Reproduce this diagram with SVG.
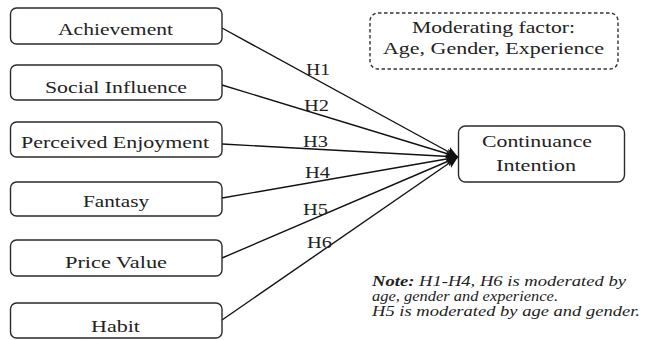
<svg xmlns="http://www.w3.org/2000/svg" width="645" height="340" viewBox="0 0 645 340">
<style>
.box{fill:#fff;stroke:#2a2a2a;stroke-width:1.4}
.dash{fill:#fff;stroke:#333;stroke-width:1.4;stroke-dasharray:3.5 2.5}
.t{font-size:17px}
.h{font-size:16px}
.n{font-size:14px;font-style:italic}
.c{stroke:#111;stroke-width:1.4;fill:none;marker-end:url(#ah)}
</style>
<defs>
<marker id="ah" viewBox="0 0 12 10" refX="12" refY="5" markerWidth="12" markerHeight="10" markerUnits="userSpaceOnUse" orient="auto">
<path d="M0,0 L12,5 L0,10 L3,5 Z" fill="#111"/>
</marker>
</defs>
<rect width="645" height="340" fill="#fff"/>
<g font-family="'Liberation Serif', 'Times New Roman', Times, serif" fill="#222">
<g id="connectors">
<line class="c" x1="222" y1="28" x2="458" y2="157"/>
<line class="c" x1="222" y1="85" x2="458" y2="157"/>
<line class="c" x1="222" y1="144" x2="458" y2="157"/>
<line class="c" x1="222" y1="198" x2="458" y2="157"/>
<line class="c" x1="222" y1="258" x2="458" y2="157"/>
<line class="c" x1="222" y1="320" x2="458" y2="157"/>
<text class="h" x="306" y="75" textLength="24" lengthAdjust="spacingAndGlyphs">H1</text>
<text class="h" x="304" y="111" textLength="25" lengthAdjust="spacingAndGlyphs">H2</text>
<text class="h" x="303" y="147" textLength="25" lengthAdjust="spacingAndGlyphs">H3</text>
<text class="h" x="305" y="178" textLength="25" lengthAdjust="spacingAndGlyphs">H4</text>
<text class="h" x="303" y="215" textLength="25" lengthAdjust="spacingAndGlyphs">H5</text>
<text class="h" x="307" y="248" textLength="25" lengthAdjust="spacingAndGlyphs">H6</text>
</g>
<g id="achievement">
<rect class="box" x="10.5" y="8" width="211.5" height="36" rx="6"/>
<text class="t" x="58" y="35" textLength="115" lengthAdjust="spacingAndGlyphs">Achievement</text>
</g>
<g id="social-influence">
<rect class="box" x="10.5" y="65" width="211.5" height="35" rx="6"/>
<text class="t" x="45" y="93" textLength="142" lengthAdjust="spacingAndGlyphs">Social Influence</text>
</g>
<g id="perceived-enjoyment">
<rect class="box" x="10.5" y="122" width="211.5" height="35" rx="6"/>
<text class="t" x="21" y="148" textLength="188" lengthAdjust="spacingAndGlyphs">Perceived Enjoyment</text>
</g>
<g id="fantasy">
<rect class="box" x="10.5" y="182" width="211.5" height="34" rx="6"/>
<text class="t" x="83" y="207" textLength="66" lengthAdjust="spacingAndGlyphs">Fantasy</text>
</g>
<g id="price-value">
<rect class="box" x="10.5" y="240" width="211.5" height="36" rx="6"/>
<text class="t" x="65" y="268" textLength="102" lengthAdjust="spacingAndGlyphs">Price Value</text>
</g>
<g id="habit">
<rect class="box" x="10.5" y="303" width="211.5" height="35" rx="6"/>
<text class="t" x="91" y="332" textLength="49" lengthAdjust="spacingAndGlyphs">Habit</text>
</g>
<g id="continuance-intention">
<rect class="box" x="458.5" y="126" width="166" height="56" rx="7"/>
<text class="t" x="482" y="147" textLength="110" lengthAdjust="spacingAndGlyphs">Continuance</text>
<text class="t" x="496" y="171" textLength="80" lengthAdjust="spacingAndGlyphs">Intention</text>
</g>
<g id="moderating-factor">
<rect class="dash" x="370" y="13" width="248" height="56" rx="8"/>
<text class="t" x="412" y="33" textLength="163" lengthAdjust="spacingAndGlyphs">Moderating factor:</text>
<text class="t" x="383" y="54" textLength="221" lengthAdjust="spacingAndGlyphs">Age, Gender, Experience</text>
</g>
<g id="note">
<text class="n" x="372" y="286" textLength="254" lengthAdjust="spacingAndGlyphs"><tspan font-weight="bold">Note:</tspan> H1-H4, H6 is moderated by</text>
<text class="n" x="372" y="301" textLength="186" lengthAdjust="spacingAndGlyphs">age, gender and experience.</text>
<text class="n" x="372" y="316" textLength="268" lengthAdjust="spacingAndGlyphs">H5 is moderated by age and gender.</text>
</g>
</g>
</svg>
